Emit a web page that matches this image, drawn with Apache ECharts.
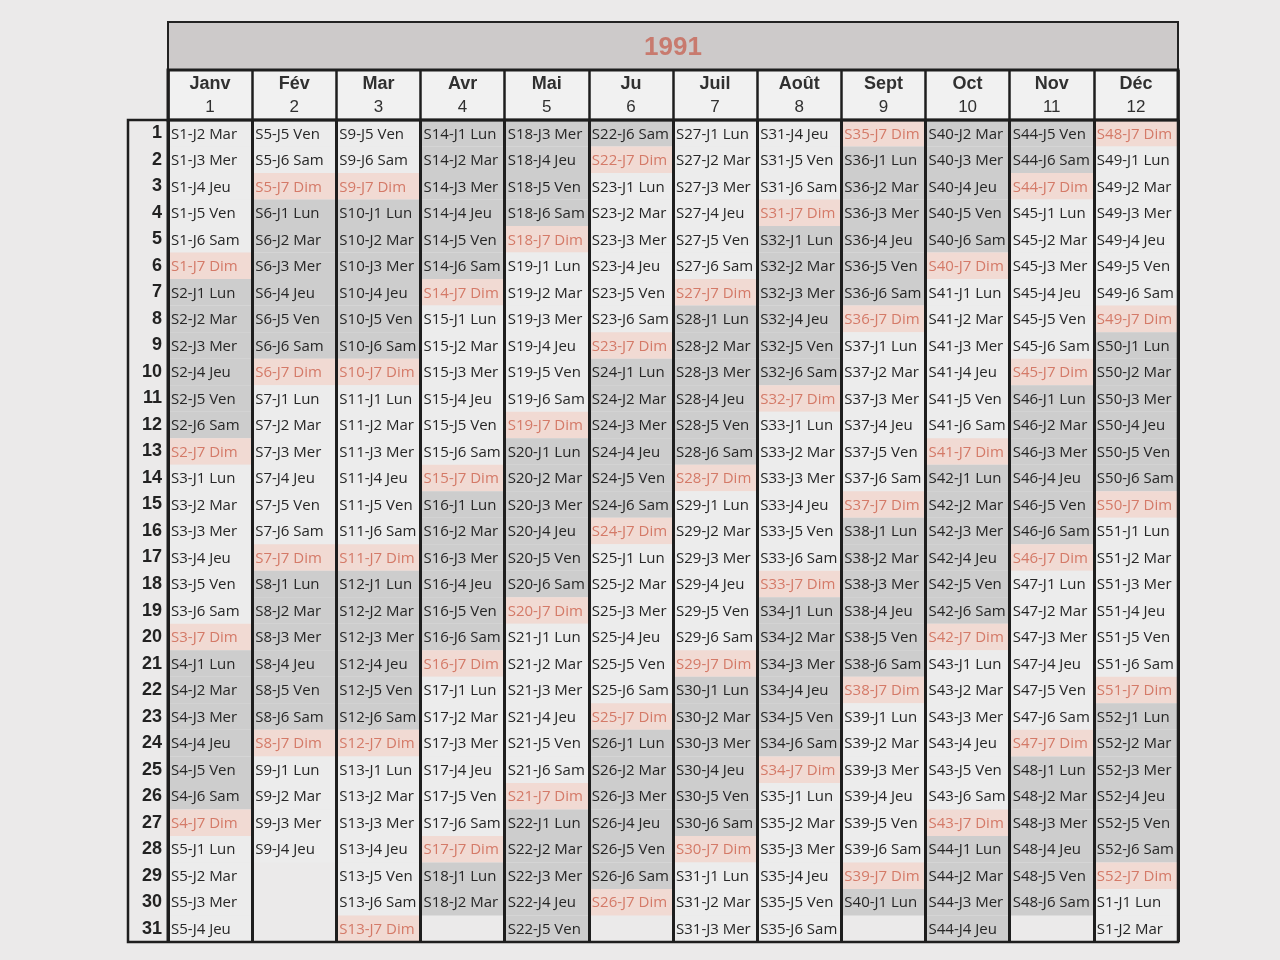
<!DOCTYPE html>
<html><head><meta charset="utf-8">
<script src="https://cdn.jsdelivr.net/npm/echarts@6/dist/echarts.min.js"></script>
<style>html,body{margin:0;padding:0;background:#ebeaea}#c{width:1280px;height:960px}</style>
</head><body><div id="c"></div><script>
var year = "1991";
var monthNames = ["Janv","Fév","Mar","Avr","Mai","Ju","Juil","Août","Sept","Oct","Nov","Déc"];
var monthNums = ["1","2","3","4","5","6","7","8","9","10","11","12"];
var dayLabels = ["1","2","3","4","5","6","7","8","9","10","11","12","13","14","15","16","17","18","19","20","21","22","23","24","25","26","27","28","29","30","31"];

var jan = ["S1-J2 Mar","S1-J3 Mer","S1-J4 Jeu","S1-J5 Ven","S1-J6 Sam","S1-J7 Dim",
"S2-J1 Lun","S2-J2 Mar","S2-J3 Mer","S2-J4 Jeu","S2-J5 Ven","S2-J6 Sam","S2-J7 Dim",
"S3-J1 Lun","S3-J2 Mar","S3-J3 Mer","S3-J4 Jeu","S3-J5 Ven","S3-J6 Sam","S3-J7 Dim",
"S4-J1 Lun","S4-J2 Mar","S4-J3 Mer","S4-J4 Jeu","S4-J5 Ven","S4-J6 Sam","S4-J7 Dim",
"S5-J1 Lun","S5-J2 Mar","S5-J3 Mer","S5-J4 Jeu"];
var feb = ["S5-J5 Ven","S5-J6 Sam","S5-J7 Dim",
"S6-J1 Lun","S6-J2 Mar","S6-J3 Mer","S6-J4 Jeu","S6-J5 Ven","S6-J6 Sam","S6-J7 Dim",
"S7-J1 Lun","S7-J2 Mar","S7-J3 Mer","S7-J4 Jeu","S7-J5 Ven","S7-J6 Sam","S7-J7 Dim",
"S8-J1 Lun","S8-J2 Mar","S8-J3 Mer","S8-J4 Jeu","S8-J5 Ven","S8-J6 Sam","S8-J7 Dim",
"S9-J1 Lun","S9-J2 Mar","S9-J3 Mer","S9-J4 Jeu"];
var mar = ["S9-J5 Ven","S9-J6 Sam","S9-J7 Dim",
"S10-J1 Lun","S10-J2 Mar","S10-J3 Mer","S10-J4 Jeu","S10-J5 Ven","S10-J6 Sam","S10-J7 Dim",
"S11-J1 Lun","S11-J2 Mar","S11-J3 Mer","S11-J4 Jeu","S11-J5 Ven","S11-J6 Sam","S11-J7 Dim",
"S12-J1 Lun","S12-J2 Mar","S12-J3 Mer","S12-J4 Jeu","S12-J5 Ven","S12-J6 Sam","S12-J7 Dim",
"S13-J1 Lun","S13-J2 Mar","S13-J3 Mer","S13-J4 Jeu","S13-J5 Ven","S13-J6 Sam","S13-J7 Dim"];
var apr = ["S14-J1 Lun","S14-J2 Mar","S14-J3 Mer","S14-J4 Jeu","S14-J5 Ven","S14-J6 Sam","S14-J7 Dim",
"S15-J1 Lun","S15-J2 Mar","S15-J3 Mer","S15-J4 Jeu","S15-J5 Ven","S15-J6 Sam","S15-J7 Dim",
"S16-J1 Lun","S16-J2 Mar","S16-J3 Mer","S16-J4 Jeu","S16-J5 Ven","S16-J6 Sam","S16-J7 Dim",
"S17-J1 Lun","S17-J2 Mar","S17-J3 Mer","S17-J4 Jeu","S17-J5 Ven","S17-J6 Sam","S17-J7 Dim",
"S18-J1 Lun","S18-J2 Mar"];
var may = ["S18-J3 Mer","S18-J4 Jeu","S18-J5 Ven","S18-J6 Sam","S18-J7 Dim",
"S19-J1 Lun","S19-J2 Mar","S19-J3 Mer","S19-J4 Jeu","S19-J5 Ven","S19-J6 Sam","S19-J7 Dim",
"S20-J1 Lun","S20-J2 Mar","S20-J3 Mer","S20-J4 Jeu","S20-J5 Ven","S20-J6 Sam","S20-J7 Dim",
"S21-J1 Lun","S21-J2 Mar","S21-J3 Mer","S21-J4 Jeu","S21-J5 Ven","S21-J6 Sam","S21-J7 Dim",
"S22-J1 Lun","S22-J2 Mar","S22-J3 Mer","S22-J4 Jeu","S22-J5 Ven"];
var jun = ["S22-J6 Sam","S22-J7 Dim",
"S23-J1 Lun","S23-J2 Mar","S23-J3 Mer","S23-J4 Jeu","S23-J5 Ven","S23-J6 Sam","S23-J7 Dim",
"S24-J1 Lun","S24-J2 Mar","S24-J3 Mer","S24-J4 Jeu","S24-J5 Ven","S24-J6 Sam","S24-J7 Dim",
"S25-J1 Lun","S25-J2 Mar","S25-J3 Mer","S25-J4 Jeu","S25-J5 Ven","S25-J6 Sam","S25-J7 Dim",
"S26-J1 Lun","S26-J2 Mar","S26-J3 Mer","S26-J4 Jeu","S26-J5 Ven","S26-J6 Sam","S26-J7 Dim"];
var jul = ["S27-J1 Lun","S27-J2 Mar","S27-J3 Mer","S27-J4 Jeu","S27-J5 Ven","S27-J6 Sam","S27-J7 Dim",
"S28-J1 Lun","S28-J2 Mar","S28-J3 Mer","S28-J4 Jeu","S28-J5 Ven","S28-J6 Sam","S28-J7 Dim",
"S29-J1 Lun","S29-J2 Mar","S29-J3 Mer","S29-J4 Jeu","S29-J5 Ven","S29-J6 Sam","S29-J7 Dim",
"S30-J1 Lun","S30-J2 Mar","S30-J3 Mer","S30-J4 Jeu","S30-J5 Ven","S30-J6 Sam","S30-J7 Dim",
"S31-J1 Lun","S31-J2 Mar","S31-J3 Mer"];
var aug = ["S31-J4 Jeu","S31-J5 Ven","S31-J6 Sam","S31-J7 Dim",
"S32-J1 Lun","S32-J2 Mar","S32-J3 Mer","S32-J4 Jeu","S32-J5 Ven","S32-J6 Sam","S32-J7 Dim",
"S33-J1 Lun","S33-J2 Mar","S33-J3 Mer","S33-J4 Jeu","S33-J5 Ven","S33-J6 Sam","S33-J7 Dim",
"S34-J1 Lun","S34-J2 Mar","S34-J3 Mer","S34-J4 Jeu","S34-J5 Ven","S34-J6 Sam","S34-J7 Dim",
"S35-J1 Lun","S35-J2 Mar","S35-J3 Mer","S35-J4 Jeu","S35-J5 Ven","S35-J6 Sam"];
var sep = ["S35-J7 Dim",
"S36-J1 Lun","S36-J2 Mar","S36-J3 Mer","S36-J4 Jeu","S36-J5 Ven","S36-J6 Sam","S36-J7 Dim",
"S37-J1 Lun","S37-J2 Mar","S37-J3 Mer","S37-J4 Jeu","S37-J5 Ven","S37-J6 Sam","S37-J7 Dim",
"S38-J1 Lun","S38-J2 Mar","S38-J3 Mer","S38-J4 Jeu","S38-J5 Ven","S38-J6 Sam","S38-J7 Dim",
"S39-J1 Lun","S39-J2 Mar","S39-J3 Mer","S39-J4 Jeu","S39-J5 Ven","S39-J6 Sam","S39-J7 Dim",
"S40-J1 Lun"];
var oct = ["S40-J2 Mar","S40-J3 Mer","S40-J4 Jeu","S40-J5 Ven","S40-J6 Sam","S40-J7 Dim",
"S41-J1 Lun","S41-J2 Mar","S41-J3 Mer","S41-J4 Jeu","S41-J5 Ven","S41-J6 Sam","S41-J7 Dim",
"S42-J1 Lun","S42-J2 Mar","S42-J3 Mer","S42-J4 Jeu","S42-J5 Ven","S42-J6 Sam","S42-J7 Dim",
"S43-J1 Lun","S43-J2 Mar","S43-J3 Mer","S43-J4 Jeu","S43-J5 Ven","S43-J6 Sam","S43-J7 Dim",
"S44-J1 Lun","S44-J2 Mar","S44-J3 Mer","S44-J4 Jeu"];
var nov = ["S44-J5 Ven","S44-J6 Sam","S44-J7 Dim",
"S45-J1 Lun","S45-J2 Mar","S45-J3 Mer","S45-J4 Jeu","S45-J5 Ven","S45-J6 Sam","S45-J7 Dim",
"S46-J1 Lun","S46-J2 Mar","S46-J3 Mer","S46-J4 Jeu","S46-J5 Ven","S46-J6 Sam","S46-J7 Dim",
"S47-J1 Lun","S47-J2 Mar","S47-J3 Mer","S47-J4 Jeu","S47-J5 Ven","S47-J6 Sam","S47-J7 Dim",
"S48-J1 Lun","S48-J2 Mar","S48-J3 Mer","S48-J4 Jeu","S48-J5 Ven","S48-J6 Sam"];
var dec = ["S48-J7 Dim",
"S49-J1 Lun","S49-J2 Mar","S49-J3 Mer","S49-J4 Jeu","S49-J5 Ven","S49-J6 Sam","S49-J7 Dim",
"S50-J1 Lun","S50-J2 Mar","S50-J3 Mer","S50-J4 Jeu","S50-J5 Ven","S50-J6 Sam","S50-J7 Dim",
"S51-J1 Lun","S51-J2 Mar","S51-J3 Mer","S51-J4 Jeu","S51-J5 Ven","S51-J6 Sam","S51-J7 Dim",
"S52-J1 Lun","S52-J2 Mar","S52-J3 Mer","S52-J4 Jeu","S52-J5 Ven","S52-J6 Sam","S52-J7 Dim",
"S1-J1 Lun","S1-J2 Mar"];

var monthCells = [jan, feb, mar, apr, may, jun, jul, aug, sep, oct, nov, dec];

var cellData = [], cellText = [];
monthCells.forEach(function (arr, m) {
  arr.forEach(function (t, d) { cellData.push([m, d]); cellText.push(t); });
});
var headData = monthNames.map(function (n, i) { return [i, 0]; });

var FONT = '"Liberation Sans", Arial, sans-serif';
var CELLFONT = '"Open Sans", "Noto Sans", sans-serif';
var L = 168, R = 1178, TOP_T = 22, TOP_H = 70, TOP_B = 120, BOT = 942, DAYX = 128;

var chart = echarts.init(document.getElementById('c'));
chart.setOption({
  backgroundColor: '#ebeaea',
  animation: false,
  grid: [
    { left: L, right: 1280 - R, top: TOP_B, bottom: 960 - BOT },
    { left: L, right: 1280 - R, top: TOP_H, height: TOP_B - TOP_H }
  ],
  xAxis: [
    { type: 'category', gridIndex: 0, data: monthNames, position: 'top', z: 10,
      axisLabel: { show: false }, axisTick: { show: false }, axisLine: { show: false },
      splitLine: { show: true, lineStyle: { color: '#1e1e1e', width: 3 } } },
    { type: 'category', gridIndex: 1, data: monthNames, position: 'top', z: 10,
      axisLabel: { show: false }, axisTick: { show: false }, axisLine: { show: false },
      splitLine: { show: true, lineStyle: { color: '#1e1e1e', width: 2.5 } } }
  ],
  yAxis: [
    { type: 'category', gridIndex: 0, data: dayLabels, inverse: true,
      axisLine: { show: false }, axisTick: { show: false }, splitLine: { show: false },
      axisLabel: { fontWeight: 'bold', fontSize: 18, color: '#222', margin: 6, fontFamily: FONT } },
    { type: 'category', gridIndex: 1, data: ['h'], show: false }
  ],
  graphic: { elements: [
    { type: 'rect', z: 50, shape: { x: L, y: TOP_T, width: R - L, height: TOP_H - TOP_T },
      style: { fill: '#cdcaca', stroke: '#222', lineWidth: 2 } },
    { type: 'text', z: 51, x: (L + R) / 2, y: (TOP_T + TOP_H) / 2 + 2,
      style: { text: year, font: 'bold 26px ' + FONT, fill: '#c87a6e', align: 'center', verticalAlign: 'middle' } },
    { type: 'rect', z: 50, shape: { x: L, y: TOP_H, width: R - L, height: TOP_B - TOP_H },
      style: { fill: 'transparent', stroke: '#1e1e1e', lineWidth: 3 } },
    { type: 'rect', z: 50, shape: { x: DAYX, y: TOP_B, width: R - DAYX, height: BOT - TOP_B },
      style: { fill: 'transparent', stroke: '#1e1e1e', lineWidth: 2.5 } },
    { type: 'line', z: 50, shape: { x1: L, y1: TOP_B, x2: L, y2: BOT },
      style: { stroke: '#1e1e1e', lineWidth: 3 } }
  ] },
  series: [
    { type: 'custom', xAxisIndex: 0, yAxisIndex: 0, data: cellData, z: 2,
      renderItem: function (params, api) {
        var p = api.coord([api.value(0), api.value(1)]);
        var s = api.size([1, 1]);
        var t = cellText[params.dataIndex];
        var sun = t.indexOf('Dim') >= 0;
        var wk = parseInt(t.slice(1), 10);
        var fill = sun ? '#f1dad3' : (wk % 2 === 0 ? '#cdcdcd' : '#ececec');
        return { type: 'group', children: [
          { type: 'rect', shape: { x: p[0] - s[0] / 2, y: p[1] - s[1] / 2, width: s[0], height: s[1] }, style: { fill: fill } },
          { type: 'text', x: p[0] - s[0] / 2 + 3, y: p[1] + 1,
            style: { text: t, font: '15px ' + CELLFONT, fill: sun ? '#d47a68' : '#262626', align: 'left', verticalAlign: 'middle' } }
        ] };
      } },
    { type: 'custom', xAxisIndex: 1, yAxisIndex: 1, data: headData, z: 2,
      renderItem: function (params, api) {
        var p = api.coord([api.value(0), 0]);
        var s = api.size([1, 1]);
        var i = params.dataIndex;
        return { type: 'group', children: [
          { type: 'rect', shape: { x: p[0] - s[0] / 2, y: p[1] - s[1] / 2, width: s[0], height: s[1] }, style: { fill: '#f1f1f1' } },
          { type: 'text', x: p[0], y: p[1] - 11, style: { text: monthNames[i], font: 'bold 18px ' + FONT, fill: '#303030', align: 'center', verticalAlign: 'middle' } },
          { type: 'text', x: p[0], y: p[1] + 12, style: { text: monthNums[i], font: '17px ' + FONT, fill: '#303030', align: 'center', verticalAlign: 'middle' } }
        ] };
      } }
  ]
});
</script></body></html>
